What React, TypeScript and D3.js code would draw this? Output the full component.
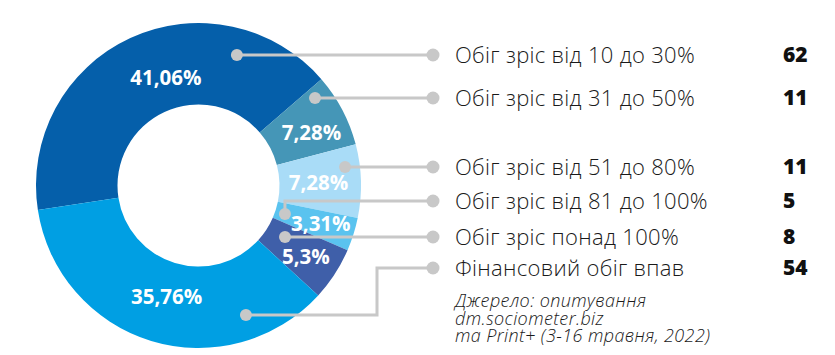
import React from "react";
import * as d3 from "d3";

const categories = [
  "Обіг зріс від 10 до 30%",
  "Обіг зріс від 31 до 50%",
  "Обіг зріс від 51 до 80%",
  "Обіг зріс від 81 до 100%",
  "Обіг зріс понад 100%",
  "Фінансовий обіг впав",
];
const counts = [62, 11, 11, 5, 8, 54];
const percentLabels = ["41,06%", "7,28%", "7,28%", "3,31%", "5,3%", "35,76%"];
const sourceLines = [
  "Джерело: опитування",
  "dm.sociometer.biz",
  "та Print+ (3-16 травня, 2022)",
];

const colors = ["#055FAA", "#4596B7", "#A9DCF7", "#5AC3EF", "#3F5FA9", "#009FE3"];
const W = 835;
const H = 355;
const cx = 198.5;
const cy = 185.5;
const rOuter = 162.5;
const rInner = 81;
const startDeg = -98.7;
const rad = (d: number) => (d * Math.PI) / 180;

// label placement: angle nudge (deg) and radius
const labelNudge = [8, 2.5, 0.4, -0.4, 0.6, -1];
const labelRadius = [113, 125, 120, 128, 129, 116];
// leader anchors (angle deg, radius) and legend row centers
const anchors: [number, number][] = [
  [16.4, 136],
  [53.1, 145.7],
  [82.8, 147.7],
  [108.2, 91],
  [120.8, 100.7],
  [159.9, 138],
];
const legendY = [55, 98, 167, 201, 237, 268];
const legendDotX = 433;
const legendTextX = 455;
const valueX = 783;
const sourceBaselines = [307, 325, 342];
const FONT = "'Open Sans', Lato, sans-serif";

export default function App() {
  const pie = d3
    .pie<number>()
    .sort(null)
    .value((d) => d)
    .startAngle(rad(startDeg))
    .endAngle(rad(startDeg + 360));
  const arcs = pie(counts);
  const arc = d3.arc<d3.PieArcDatum<number>>().innerRadius(rInner).outerRadius(rOuter);

  const polar = (deg: number, r: number) => [
    cx + r * Math.sin(rad(deg)),
    cy - r * Math.cos(rad(deg)),
  ];

  const leaderPath = (i: number) => {
    const [ax, ay] = polar(anchors[i][0], anchors[i][1]);
    const y = legendY[i];
    const p = d3.path();
    p.moveTo(ax, ay);
    if (i === 3) {
      p.lineTo(ax, y);
      p.lineTo(legendDotX, y);
    } else if (i === 5) {
      const bx = 377;
      p.lineTo(bx, ay);
      p.lineTo(bx, y);
      p.lineTo(legendDotX, y);
    } else {
      p.lineTo(legendDotX, ay);
    }
    return p.toString();
  };

  return (
    <svg
      width={W}
      height={H}
      style={{ position: "absolute", left: 0, top: 0, background: "#fff" }}
    >
      <g transform={`translate(${cx},${cy})`}>
        {arcs.map((a, i) => (
          <path key={i} d={arc(a) || ""} fill={colors[i]} />
        ))}
      </g>
      {arcs.map((a, i) => {
        const midDeg = (((a.startAngle + a.endAngle) / 2) * 180) / Math.PI + labelNudge[i];
        const [x, y] = polar(midDeg, labelRadius[i]);
        return (
          <text
            key={i}
            x={x}
            y={y}
            dy="0.36em"
            textAnchor="middle"
            fill="#fff"
            fontFamily={FONT}
            fontWeight={700}
            fontSize={20.5}
          >
            {percentLabels[i]}
          </text>
        );
      })}
      {categories.map((c, i) => {
        const [ax, ay] = polar(anchors[i][0], anchors[i][1]);
        return (
          <g key={i}>
            <path d={leaderPath(i)} fill="none" stroke="#C8C8C8" strokeWidth={3} />
            <circle cx={ax} cy={ay} r={6} fill="#C8C8C8" />
            <circle cx={legendDotX} cy={legendY[i]} r={6.5} fill="#C8C8C8" />
            <text
              x={legendTextX}
              y={legendY[i]}
              dy="0.35em"
              fill="#1a1a1a"
              fontFamily={FONT}
              fontWeight={300}
              fontSize={22}
              letterSpacing={0.3}
            >
              {c}
            </text>
            <text
              x={valueX}
              y={legendY[i]}
              dy="0.35em"
              fill="#111"
              fontFamily={FONT}
              fontWeight={800}
              fontSize={21}
            >
              {counts[i]}
            </text>
          </g>
        );
      })}
      {sourceLines.map((s, i) => (
        <text
          key={i}
          x={legendTextX}
          y={sourceBaselines[i]}
          fill="#1a1a1a"
          fontFamily={FONT}
          fontStyle="italic"
          fontWeight={300}
          fontSize={18}
          letterSpacing={0.4}
        >
          {s}
        </text>
      ))}
    </svg>
  );
}
